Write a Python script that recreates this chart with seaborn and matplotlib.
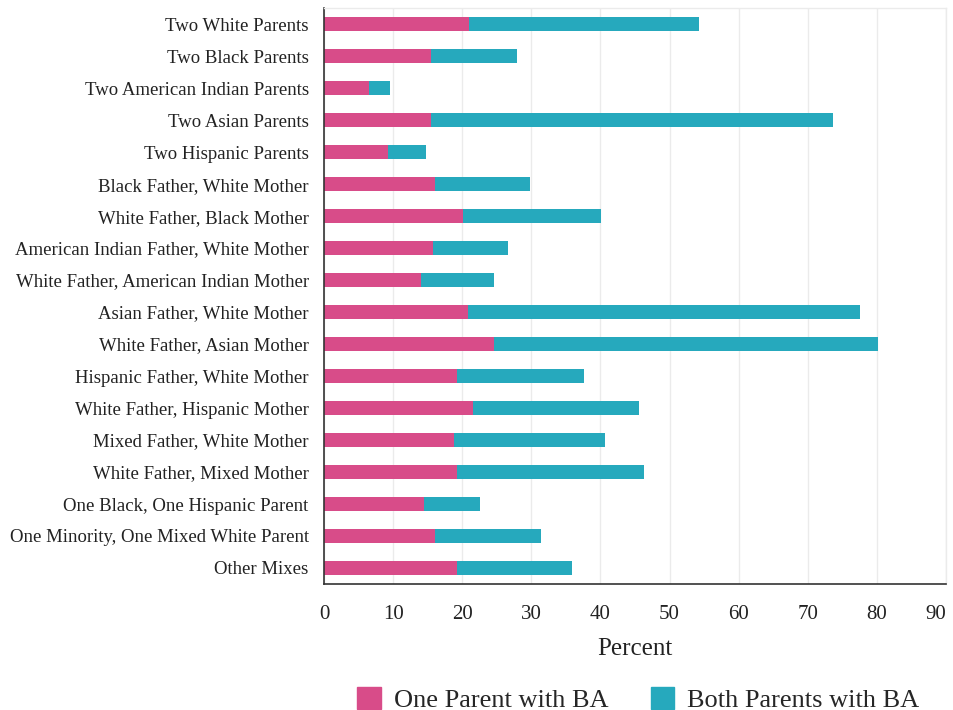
import matplotlib
matplotlib.use("Agg")
import matplotlib.pyplot as plt
import matplotlib.patches as mpatches
import seaborn as sns
import pandas as pd

categories = [
    "Two White Parents", "Two Black Parents", "Two American Indian Parents",
    "Two Asian Parents", "Two Hispanic Parents", "Black Father, White Mother",
    "White Father, Black Mother", "American Indian Father, White Mother",
    "White Father, American Indian Mother", "Asian Father, White Mother",
    "White Father, Asian Mother", "Hispanic Father, White Mother",
    "White Father, Hispanic Mother", "Mixed Father, White Mother",
    "White Father, Mixed Mother", "One Black, One Hispanic Parent",
    "One Minority, One Mixed White Parent", "Other Mixes",
]
one_parent = [21.0, 15.5, 6.5, 15.5, 9.2, 16.1, 20.1, 15.8, 14.0, 20.9,
              24.6, 19.2, 21.6, 18.8, 19.2, 14.5, 16.0, 19.2]
both_parents = [33.2, 12.4, 3.1, 58.1, 5.6, 13.7, 20.0, 10.8, 10.6, 56.6,
                55.5, 18.4, 24.0, 21.8, 27.1, 8.1, 15.4, 16.7]
x_ticks = [0, 10, 20, 30, 40, 50, 60, 70, 80, 90]

PINK = "#D84C89"
TEAL = "#26A9BD"

df = pd.DataFrame({"cat": categories, "one": one_parent, "both": both_parents})
df["total"] = df["one"] + df["both"]

sns.set_theme(style="white")
plt.rcParams["font.family"] = ["Liberation Serif", "DejaVu Serif"]

fig = plt.figure(figsize=(9.54, 7.10), dpi=100)
ax = fig.add_axes([0.3396, 0.1775, 0.652, 0.811])

sns.barplot(data=df, x="total", y="cat", color=TEAL, width=0.44,
            orient="h", ax=ax, saturation=1, linewidth=0)
sns.barplot(data=df, x="one", y="cat", color=PINK, width=0.44,
            orient="h", ax=ax, saturation=1, linewidth=0)

ax.set_xlim(0, 90)
ax.set_ylim(len(categories) - 0.5, -0.5)
ax.set_xticks(x_ticks)
ax.set_xticklabels([str(t) for t in x_ticks])
ax.grid(axis="x", color="#ebebeb", linewidth=1)
ax.set_axisbelow(True)
for s in ["top", "right"]:
    ax.spines[s].set_color("#ebebeb")
    ax.spines[s].set_linewidth(1)
for s in ["left", "bottom"]:
    ax.spines[s].set_color("#333333")
    ax.spines[s].set_linewidth(1.2)

ax.tick_params(axis="y", length=0, pad=11, labelsize=13.5, labelcolor="#222222")
ax.tick_params(axis="x", length=0, pad=15, labelsize=15, labelcolor="#222222")
ax.get_xticklabels()[-1].set_horizontalalignment("right")
ax.set_ylabel("")
ax.set_xlabel("Percent", fontsize=18, color="#222222", labelpad=10)

handles = [mpatches.Patch(color=PINK, label="One Parent with BA"),
           mpatches.Patch(color=TEAL, label="Both Parents with BA")]
fig.legend(handles=handles, loc="lower center", bbox_to_anchor=(0.669, -0.036),
           ncol=2, frameon=False, fontsize=19, handlelength=0.9, handleheight=0.9,
           columnspacing=1.6, handletextpad=0.5)

fig.savefig("out.png", dpi=100)
